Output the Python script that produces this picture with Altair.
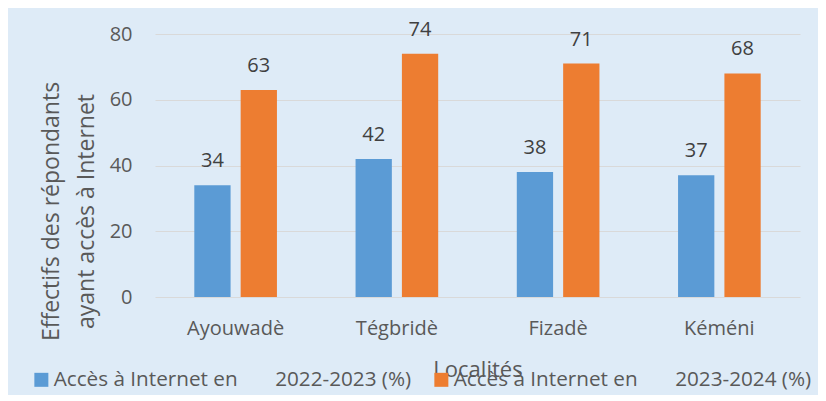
import altair as alt
import pandas as pd

# ---- data ----
localites = ["Ayouwadè", "Tégbridè", "Fizadè", "Kéméni"]
acces_2022_2023 = [34, 42, 38, 37]
acces_2023_2024 = [63, 74, 71, 68]
gap = "\u00a0" * 7
series = [
    "Accès à Internet en" + gap + "2022-2023 (%)",
    "Accès à Internet en" + gap + "2023-2024 (%)",
]
colors = ["#5B9BD5", "#ED7D31"]
y_ticks = [0, 20, 40, 60, 80]

rows = []
for i, loc in enumerate(localites):
    rows.append({"Localité": loc, "Série": series[0], "Valeur": acces_2022_2023[i]})
    rows.append({"Localité": loc, "Série": series[1], "Valeur": acces_2023_2024[i]})
df = pd.DataFrame(rows)

FONT = "Open Sans"
GREY = "#595959"

x = alt.X(
    "Localité:N",
    sort=localites,
    scale=alt.Scale(paddingInner=0, paddingOuter=0),
    axis=alt.Axis(
        title="Localités",
        labelAngle=0,
        labelFont=FONT,
        labelFontSize=20,
        labelColor=GREY,
        labelPadding=21,
        ticks=False,
        domain=False,
        grid=False,
        titleFont=FONT,
        titleFontSize=22,
        titleFontWeight="normal",
        titleColor=GREY,
        titleBaseline="alphabetic",
        titleY=79,
    ),
)
xoff = alt.XOffset(
    "Série:N", sort=series, scale=alt.Scale(paddingInner=0.217, paddingOuter=0.848)
)
y = alt.Y(
    "Valeur:Q",
    scale=alt.Scale(domain=[0, 80], nice=False),
    axis=alt.Axis(
        values=y_ticks,
        title=["Effectifs des répondants", "ayant accès à Internet"],
        labelFont=FONT,
        labelFontSize=20,
        labelColor=GREY,
        labelPadding=23,
        ticks=False,
        domain=False,
        grid=True,
        gridColor="#D9D9D9",
        gridWidth=1,
        titleFont=FONT,
        titleFontSize=23,
        titleFontWeight="normal",
        titleColor=GREY,
        titleAngle=270,
        titleAlign="center",
        titleBaseline="alphabetic",
        titleLineHeight=35,
        titleX=-97,
        titleY=177,
    ),
)

bars = alt.Chart(df).mark_bar().encode(
    x=x,
    xOffset=xoff,
    y=y,
    color=alt.Color(
        "Série:N",
        sort=series,
        scale=alt.Scale(domain=series, range=colors),
        legend=alt.Legend(
            orient="none",
            legendX=-124,
            legendY=335,
            direction="horizontal",
            title=None,
            symbolType="square",
            symbolSize=196,
            symbolStrokeWidth=0,
            symbolOpacity=1,
            labelFont=FONT,
            labelFontSize=20.7,
            labelColor=GREY,
            labelLimit=0,
            labelOffset=2,
            columnPadding=19,
            padding=0,
        ),
    ),
)

labels = alt.Chart(df).mark_text(
    font=FONT, fontSize=20, color="#404040", baseline="alphabetic", dy=-18
).encode(x=x, xOffset=xoff, y=y, text=alt.Text("Valeur:Q"))

chart = (
    alt.layer(bars, labels)
    .properties(
        width=645,
        height=263,
        background="#DEEBF7",
        padding={"left": 147, "top": 26, "right": 18, "bottom": 98},
        autosize=alt.AutoSizeParams(type="none"),
    )
    .configure_view(strokeOpacity=0)
)

chart.save("out.html", embed_options={"renderer": "svg", "actions": False})
